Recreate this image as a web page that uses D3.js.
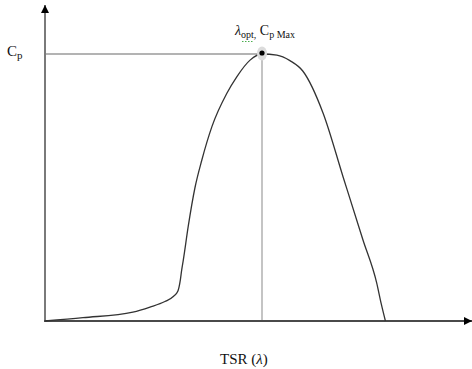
<!DOCTYPE html>
<html>
<head>
<meta charset="utf-8">
<script src="https://cdn.jsdelivr.net/npm/d3@7"></script>
<style>
	body { margin: 0; background: #fff; }
	text { font-family: "Liberation Serif", "DejaVu Serif", serif; fill: #111; }
</style>
</head>
<body>
<svg width="472" height="369"></svg>
<script>
// power coefficient curve (TSR vs Cp)
var tsr = [0, 1.40, 3.24, 3.87, 4.42, 4.73, 4.90, 4.99, 5.04, 5.10, 5.28, 5.53, 5.78, 6.15, 6.70, 7.07, 7.56, 8.0, 8.55, 9.03, 9.51, 10.25, 10.99, 11.72, 12.23, 12.39, 12.55];
var cp  = [0, 0.006, 0.016, 0.025, 0.035, 0.044, 0.054, 0.074, 0.092, 0.110, 0.170, 0.240, 0.289, 0.349, 0.409, 0.439, 0.469, 0.48, 0.478, 0.468, 0.449, 0.374, 0.259, 0.146, 0.068, 0.032, 0];
var lambdaOpt = 8.0;
var cpMax = 0.48;

var svg = d3.select("svg"),
	width = +svg.attr("width"),
	height = +svg.attr("height");

var x = d3.scaleLinear().domain([0, lambdaOpt]).range([45, 262]); //origin at the y axis
var y = d3.scaleLinear().domain([0, cpMax]).range([321, 54]);

var points = tsr.map(function(d, i) { return [d, cp[i]]; });

// arrow heads
var defs = svg.append("defs");
defs.append("marker")
	.attr("id", "arrow")
	.attr("viewBox", "0 0 10 10")
	.attr("refX", 10).attr("refY", 5)
	.attr("markerWidth", 4.2).attr("markerHeight", 4.2)
	.attr("markerUnits", "strokeWidth")
	.attr("orient", "auto")
	.append("path")
	.attr("d", "M0,0 L10,5 L0,10 Z")
	.attr("fill", "#000");

// reference lines to the optimum point
svg.append("line")
	.attr("x1", x(0)).attr("y1", y(cpMax))
	.attr("x2", x(lambdaOpt)).attr("y2", y(cpMax))
	.attr("stroke", "#9a9a9a").attr("stroke-width", 1.5);

svg.append("line")
	.attr("x1", x(lambdaOpt)).attr("y1", y(cpMax))
	.attr("x2", x(lambdaOpt)).attr("y2", y(0))
	.attr("stroke", "#b0b0b0").attr("stroke-width", 1.5);

// axes
svg.append("line")
	.attr("x1", x(0)).attr("y1", y(0) + 1)
	.attr("x2", x(0)).attr("y2", 5)
	.attr("stroke", "#7a7a7a").attr("stroke-width", 2)
	.attr("marker-end", "url(#arrow)");

svg.append("line")
	.attr("x1", x(0) - 1).attr("y1", y(0))
	.attr("x2", 472).attr("y2", y(0))
	.attr("stroke", "#4a4a4a").attr("stroke-width", 2)
	.attr("marker-end", "url(#arrow)");

// the Cp curve
var line = d3.line()
	.x(function(d) { return x(d[0]); })
	.y(function(d) { return y(d[1]); })
	.curve(d3.curveMonotoneX);

svg.append("path")
	.datum(points)
	.attr("d", line)
	.attr("fill", "none")
	.attr("stroke", "#333")
	.attr("stroke-width", 1.3);

// optimum point marker
svg.append("ellipse")
	.attr("cx", x(lambdaOpt)).attr("cy", y(cpMax) - 0.5)
	.attr("rx", 5).attr("ry", 7)
	.attr("fill", "#dcdcdc");

svg.append("circle")
	.attr("cx", x(lambdaOpt)).attr("cy", y(cpMax) - 1)
	.attr("r", 2.6)
	.attr("fill", "#000");

// labels
var cpLabel = svg.append("text")
	.attr("x", 7).attr("y", 56)
	.style("font-size", "15px");
cpLabel.append("tspan").text("C");
cpLabel.append("tspan").attr("dy", 3).style("font-size", "11px").text("p");

var optLabel = svg.append("text")
	.attr("x", 235).attr("y", 35)
	.style("font-size", "14px");
optLabel.append("tspan").style("font-style", "italic").text("λ");
optLabel.append("tspan").attr("dy", 3).style("font-size", "10px").text("opt,");
optLabel.append("tspan").attr("dy", -3).text(" C");
optLabel.append("tspan").attr("dy", 3).style("font-size", "10px").text("p Max");

// spell check squiggle under "opt"
svg.append("line")
	.attr("x1", 242).attr("y1", 41.5)
	.attr("x2", 254).attr("y2", 41.5)
	.attr("stroke", "#4caf50").attr("stroke-width", 1.2)
	.attr("stroke-dasharray", "1.5,1.5");

var xLabel = svg.append("text")
	.attr("x", 220).attr("y", 364)
	.style("font-size", "15px");
xLabel.append("tspan").text("TSR (");
xLabel.append("tspan").style("font-style", "italic").text("λ");
xLabel.append("tspan").text(")");
</script>
</body>
</html>
